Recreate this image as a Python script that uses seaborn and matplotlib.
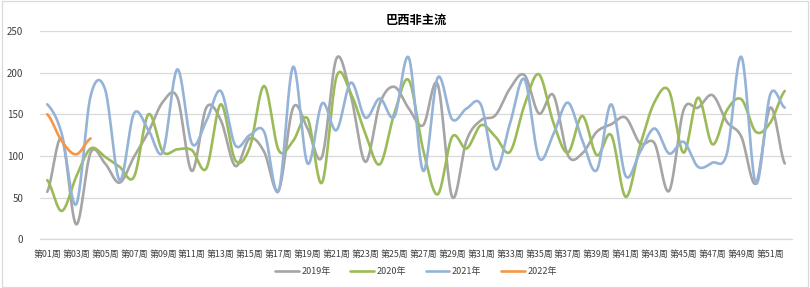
import numpy as np
import pandas as pd
import matplotlib
matplotlib.use("Agg")
import matplotlib.pyplot as plt
import seaborn as sns
from matplotlib.patches import Rectangle

weeks = [f"第{i:02d}周" for i in range(1, 53)]

y2019 = [57, 121, 18, 104, 91, 68, 99, 129, 165, 170, 82, 158, 143, 88, 121, 105, 59, 158, 133, 99,
         217, 172, 93, 163, 183, 157, 137, 186, 51, 119, 143, 149, 181, 197, 151, 173, 101, 103, 129, 138,
         146, 115, 115, 58, 155, 158, 173, 141, 123, 67, 158, 91]
y2020 = [71, 34, 75, 109, 99, 87, 75, 150, 105, 108, 107, 85, 162, 95, 110, 184, 107, 118, 145, 68,
         195, 175, 127, 90, 151, 191, 107, 54, 123, 109, 137, 123, 105, 161, 198, 140, 104, 148, 101, 125,
         51, 113, 165, 178, 104, 170, 114, 155, 168, 129, 140, 178]
y2021 = [162, 127, 42, 172, 180, 71, 151, 131, 105, 204, 115, 142, 178, 113, 125, 129, 58, 207, 91, 163,
         131, 188, 146, 169, 147, 218, 82, 194, 144, 157, 161, 84, 139, 192, 98, 126, 164, 119, 83, 162,
         76, 105, 133, 103, 117, 87, 92, 103, 219, 67, 174, 158]
y2022 = [150, 118, 102, 121]

series = {"2019年": y2019, "2020年": y2020, "2021年": y2021, "2022年": y2022}
colors = {"2019年": "#A5A5A5", "2020年": "#9BBB59", "2021年": "#95B3D7", "2022年": "#F79646"}


def smooth(vals, n=24):
    p = np.asarray(vals, dtype=float)
    x = np.arange(len(p), dtype=float)
    xs, ys = [], []
    for i in range(len(p) - 1):
        p0 = p[i - 1] if i > 0 else p[i]
        p1, p2 = p[i], p[i + 1]
        p3 = p[i + 2] if i + 2 < len(p) else p[i + 1]
        c1 = p1 + (p2 - p0) / 6.0
        c2 = p2 - (p3 - p1) / 6.0
        t = np.linspace(0, 1, n, endpoint=(i == len(p) - 2))
        b = (1 - t) ** 3 * p1 + 3 * (1 - t) ** 2 * t * c1 + 3 * (1 - t) * t ** 2 * c2 + t ** 3 * p2
        xs.append(x[i] + t)
        ys.append(b)
    return np.concatenate(xs), np.concatenate(ys)


rows = []
for name, vals in series.items():
    xs, ys = smooth(vals)
    rows.append(pd.DataFrame({"x": xs, "y": ys, "year": name}))
df = pd.concat(rows, ignore_index=True)

sns.set_theme(style="white")
plt.rcParams["font.family"] = ["Noto Sans CJK SC", "DejaVu Sans"]

fig = plt.figure(figsize=(8.1, 2.88), dpi=100)
ax = fig.add_axes([40 / 810, 1 - 239.3 / 288, 752 / 810, (239.3 - 31) / 288])

sns.lineplot(data=df, x="x", y="y", hue="year", palette=colors, estimator=None, sort=False,
             linewidth=1.9, ax=ax, legend=True)

ax.set_xlim(-0.5, 51.5)
ax.set_ylim(0, 250)
ax.set_yticks([0, 50, 100, 150, 200, 250])
ax.yaxis.grid(True, color="#D9D9D9", linewidth=0.9)
ax.set_axisbelow(True)
ax.set_xticks(range(0, 52, 2))
ax.set_xticklabels(weeks[::2], fontsize=6.4, color="#404040")
ax.set_xticks(np.arange(-0.5, 52, 1), minor=True)
ax.tick_params(axis="x", which="major", length=0, pad=8)
ax.tick_params(axis="x", which="minor", length=4, color="#D9D9D9", width=0.9, direction="out")
ax.tick_params(axis="y", length=0, labelsize=7, labelcolor="#404040", pad=12)
for s in ["top", "right", "left"]:
    ax.spines[s].set_visible(False)
ax.spines["bottom"].set_color("#D9D9D9")
ax.spines["bottom"].set_linewidth(0.9)
ax.set_xlabel("")
ax.set_ylabel("")

ax.set_title("巴西非主流", fontsize=8.8, fontweight="bold", color="#000000", pad=5)

leg = ax.legend(loc="upper center", bbox_to_anchor=(0.5, -0.095), ncol=4, frameon=False,
                fontsize=6.5, handlelength=2.6, columnspacing=2.2, handletextpad=0.3)
for t in leg.get_texts():
    t.set_color("#404040")

fig.patches.append(Rectangle((0.002, 0.003), 0.995, 0.994, transform=fig.transFigure,
                             fill=False, edgecolor="#D9D9D9", linewidth=0.9))

fig.savefig("out.png", dpi=100)
